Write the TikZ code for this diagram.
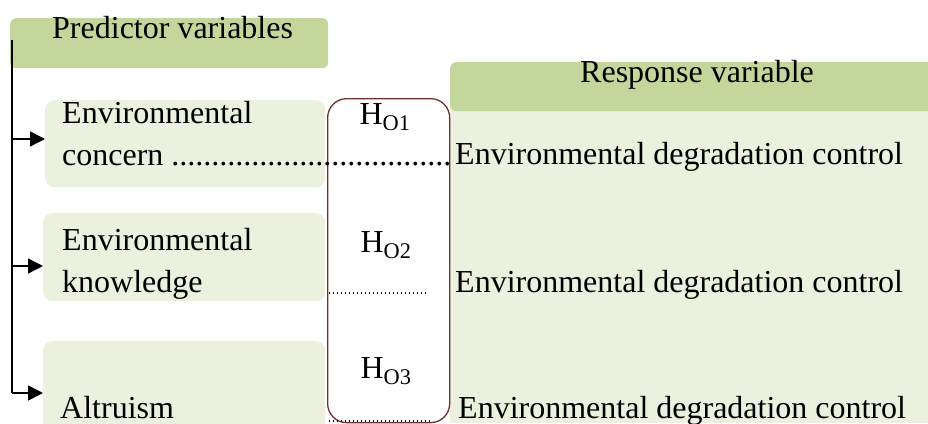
\documentclass[tikz,border=0pt]{standalone}
\usepackage{fontspec}
\setmainfont{Liberation Serif}
\usetikzlibrary{arrows.meta}
\definecolor{headgreen}{HTML}{C3D69B}
\definecolor{boxgreen}{HTML}{EBF1DE}
\definecolor{hypred}{HTML}{70302E}
\begin{document}
\begin{tikzpicture}[x=1pt,y=1pt,
	font=\fontsize{32}{38}\selectfont,
	head box/.style={fill=headgreen, rounded corners=6pt, inner sep=0pt},
	pred box/.style={fill=boxgreen, rounded corners=9pt, inner sep=0pt, anchor=north west},
	hyp box/.style={draw=hypred, line width=1.3pt, rounded corners=19pt, inner sep=0pt, anchor=north west},
	plain text/.style={inner sep=0pt, anchor=base west},
	hyp text/.style={inner sep=0pt, anchor=base},
	link/.style={line width=1.4pt, -{Triangle[length=15pt,width=15pt]}},
	short dots/.style={line width=1.3pt, dash pattern=on 1.3pt off 2.7pt}]
	\useasboundingbox (0,0) rectangle (928,-423);

	% response side
	\fill[boxgreen] (450,-100) rectangle (928,-423);
	\node[head box, minimum width=490pt, minimum height=49pt, anchor=north west] (Resp) at (450,-62) {};
	\node[plain text] (RespText) at (580,-82) {Response variable};

	% predictor side
	\node[head box, minimum width=318pt, minimum height=50pt, anchor=north west] (Pred) at (10,-18) {};
	\node[plain text] (PredText) at (52,-38) {Predictor variables};
	\node[pred box, minimum width=280pt, minimum height=87pt] (Concern) at (45,-100) {};
	\node[pred box, minimum width=282pt, minimum height=88pt] (Knowledge) at (43,-213) {};
	\node[pred box, minimum width=282pt, minimum height=100pt] (Altruism) at (43,-341) {};

	% hypotheses
	\node[hyp box, minimum width=122pt, minimum height=324pt] (Hyp) at (327,-98) {};
	\node[hyp text] (H1) at (385,-124) {H\textsubscript{O1}};
	\node[hyp text] (H2) at (386,-252) {H\textsubscript{O2}};
	\node[hyp text] (H3) at (386,-378) {H\textsubscript{O3}};

	% row texts
	\node[plain text] (C1) at (62,-123) {Environmental};
	\node[plain text] (C2) at (62,-165) {concern ...................................};
	\node[plain text] (K1) at (62,-250) {Environmental};
	\node[plain text] (K2) at (62,-292) {knowledge};
	\node[plain text] (A1) at (60,-418) {Altruism};
	\node[plain text] (D1) at (455,-164) {Environmental degradation control};
	\node[plain text] (D2) at (455,-292) {Environmental degradation control};
	\node[plain text] (D3) at (458,-418) {Environmental degradation control};

	% dotted links
	\coordinate (L2) at (329,-293);
	\coordinate (R2) at (427,-293);
	\coordinate (L3) at (329,-421);
	\coordinate (R3) at (430,-421);
	\draw[short dots] (L2) -- (R2);
	\draw[short dots] (L3) -- (R3);

	% trunk and arrows
	\coordinate (Top) at (12,-40);
	\coordinate (Bot) at (12,-393);
	\draw[line width=1.4pt] (Top) -- (Bot);
	\draw[link] (12,-139) -- (Concern.west |- 0,-139);
	\draw[link] (12,-266) -- (Knowledge.west |- 0,-266);
	\draw[link] (Bot) -- (Altruism.west |- Bot);
\end{tikzpicture}
\end{document}
